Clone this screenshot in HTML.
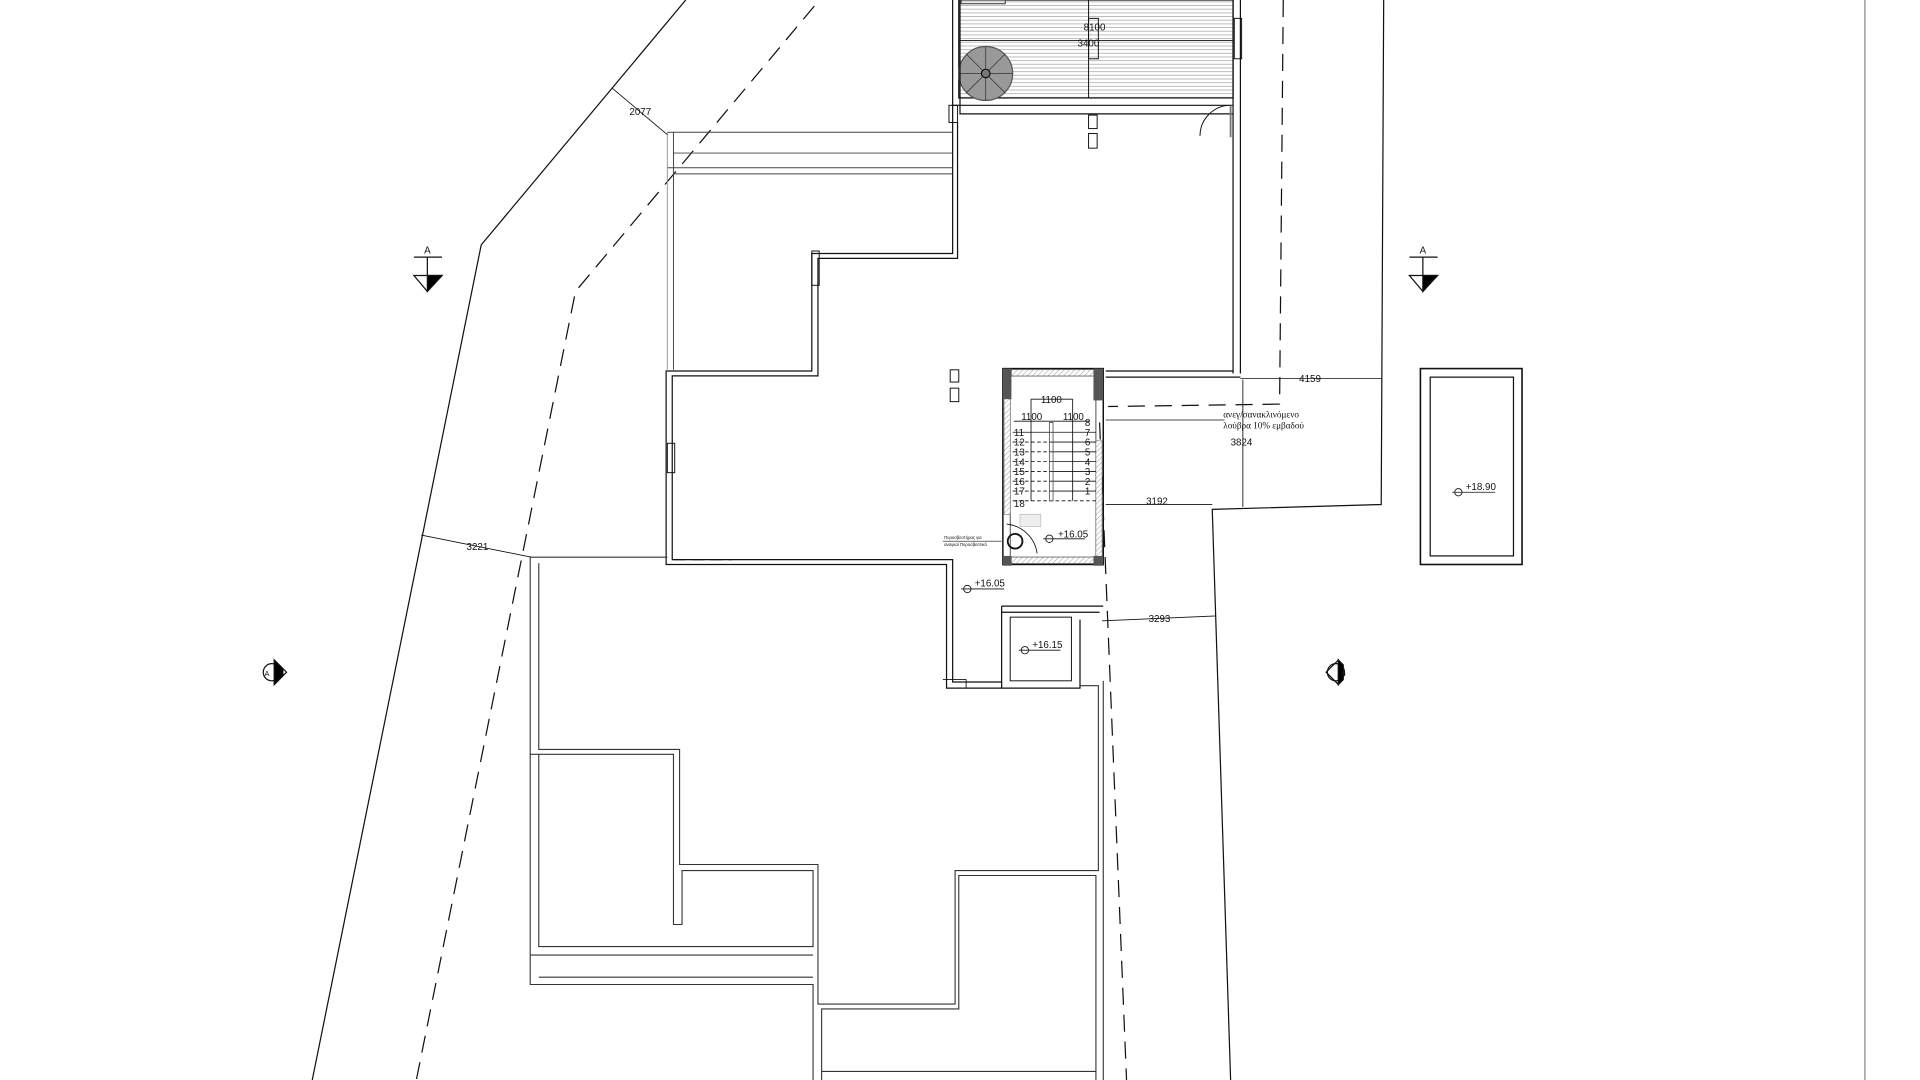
<!DOCTYPE html>
<html><head><meta charset="utf-8"><style>
html,body{margin:0;padding:0;background:#fff;width:1920px;height:1080px;overflow:hidden}
svg{display:block}
text{font-family:"Liberation Sans",sans-serif;font-size:8px;fill:#111}
</style></head><body>
<svg width="1920" height="1080" viewBox="0 0 1568 882" preserveAspectRatio="none" xmlns="http://www.w3.org/2000/svg">
<defs>
<pattern id="hz" width="4" height="3" patternUnits="userSpaceOnUse"><rect width="4" height="3" fill="#fff"/><line x1="0" y1="1.5" x2="4" y2="1.5" stroke="#bbb" stroke-width="0.8"/></pattern>
<pattern id="dg" width="3" height="3" patternUnits="userSpaceOnUse" patternTransform="rotate(45)"><rect width="3" height="3" fill="#fff"/><line x1="0" y1="0" x2="0" y2="3" stroke="#999" stroke-width="0.8"/></pattern>
</defs>
<g fill="none" stroke="#111" stroke-width="1">
<!-- site boundaries -->
<polyline points="560,0 393,200 255,882"/>
<polyline points="665,5 470,238 340,882" stroke-dasharray="14,8"/>
<polyline points="1130,0 1128,412 990,416 1005,882"/>
<polyline points="1048,0 1045,330 905,332" stroke-dasharray="14,8"/>
<polyline points="898,345 920,882" stroke-dasharray="14,8"/>
<line x1="1523" y1="0" x2="1523" y2="882" stroke="#999" stroke-width="1.2"/>

<!-- top deck -->
<rect x="783" y="0" width="224" height="80" fill="url(#hz)" stroke="#111"/>
<rect x="785" y="0" width="36" height="3" stroke="#555"/>
<line x1="889" y1="0" x2="889" y2="80" stroke-width="0.8"/>
<line x1="783" y1="33" x2="1007" y2="33" stroke-width="0.7"/>
<circle cx="805" cy="60" r="22" fill="#999" stroke="#555"/>
<g stroke="#333" stroke-width="0.6">
<line x1="805" y1="60" x2="805" y2="38"/><line x1="805" y1="60" x2="827" y2="60"/><line x1="805" y1="60" x2="805" y2="82"/><line x1="805" y1="60" x2="783" y2="60"/>
<line x1="805" y1="60" x2="821" y2="44"/><line x1="805" y1="60" x2="821" y2="76"/><line x1="805" y1="60" x2="789" y2="76"/><line x1="805" y1="60" x2="789" y2="44"/>
</g>
<circle cx="805" cy="60" r="3.5" fill="#777"/>
<rect x="889" y="15" width="8" height="33" stroke-width="0.8"/>
<rect x="1008" y="15" width="6" height="33" stroke-width="0.8"/>

<!-- main building outline (double wall) -->
<path d="M778,0 V100 V207 H663 V303 H544 V461 H773 V562 H818"/>
<path d="M784,0 V93 H1007 M782,100 V211 H668 V307 H549 V457 H778 V557 H818"/>
<path d="M778,86 H1007 M1007,0 V305 M1013,0 V305 M903,303 H1007 M903,308 H1013"/>
<path d="M1005,86 A25,25 0 0 0 980,111" stroke-width="0.8"/>
<line x1="1005" y1="86" x2="1005" y2="112" stroke="#777" stroke-width="1.5"/>
<rect x="889" y="94" width="7" height="11" stroke-width="0.8"/><rect x="889" y="109" width="7" height="12" stroke-width="0.8"/>
<rect x="776" y="302" width="7" height="10" stroke-width="0.8"/><rect x="776" y="317" width="7" height="11" stroke-width="0.8"/>
<rect x="545" y="362" width="6" height="24" stroke-width="0.8"/>
<rect x="663" y="205" width="6" height="28" stroke-width="0.8"/>
<rect x="775" y="86" width="7" height="14" stroke-width="0.8"/>
<line x1="550" y1="457" x2="598" y2="457" stroke-dasharray="10,5"/>
<!-- upper-left roof lines -->
<g stroke="#444" stroke-width="0.8">
<line x1="545" y1="108" x2="778" y2="108"/><line x1="550" y1="125" x2="778" y2="125"/><line x1="545" y1="137" x2="778" y2="137"/><line x1="550" y1="142" x2="778" y2="142"/>
<line x1="545" y1="108" x2="545" y2="302" stroke="#999"/><line x1="550" y1="108" x2="550" y2="302"/>
</g>

<!-- staircase -->
<rect x="819" y="301" width="82" height="160" stroke-width="1.2"/>
<rect x="825" y="307" width="70" height="148" stroke-width="0.6"/>
<rect x="826" y="302" width="68" height="5" fill="url(#dg)" stroke="#555" stroke-width="0.4"/>
<rect x="826" y="455" width="68" height="5" fill="url(#dg)" stroke="#555" stroke-width="0.4"/>
<rect x="820" y="315" width="5" height="105" fill="url(#dg)" stroke="#555" stroke-width="0.4"/>
<rect x="895" y="360" width="5" height="95" fill="url(#dg)" stroke="#555" stroke-width="0.4"/>
<rect x="819" y="301" width="7" height="25" fill="#555" stroke="none"/>
<rect x="893" y="301" width="8" height="26" fill="#555" stroke="none"/>
<rect x="819" y="454" width="7" height="8" fill="#555" stroke="none"/>
<rect x="893" y="454" width="8" height="8" fill="#555" stroke="none"/>
<g stroke-width="0.7">
<line x1="827" y1="353" x2="895" y2="353"/>
<line x1="827" y1="361" x2="860" y2="361" stroke-dasharray="3,2"/><line x1="860" y1="361" x2="895" y2="361"/>
<line x1="827" y1="369" x2="860" y2="369" stroke-dasharray="3,2"/><line x1="860" y1="369" x2="895" y2="369"/>
<line x1="827" y1="377" x2="860" y2="377" stroke-dasharray="3,2"/><line x1="860" y1="377" x2="895" y2="377"/>
<line x1="827" y1="385" x2="860" y2="385" stroke-dasharray="3,2"/><line x1="860" y1="385" x2="895" y2="385"/>
<line x1="827" y1="393" x2="860" y2="393" stroke-dasharray="3,2"/><line x1="860" y1="393" x2="895" y2="393"/>
<line x1="827" y1="401" x2="860" y2="401" stroke-dasharray="3,2"/><line x1="860" y1="401" x2="895" y2="401"/>
<line x1="827" y1="409" x2="895" y2="409" stroke-dasharray="3,2"/>
<rect x="857" y="345" width="3" height="64" stroke="#555"/>
<line x1="842" y1="326" x2="842" y2="409"/><line x1="876" y1="326" x2="876" y2="409"/><line x1="842" y1="326" x2="876" y2="326"/>
<line x1="828" y1="344" x2="890" y2="344"/>
</g>
<rect x="833" y="420" width="17" height="10" fill="#eee" stroke="#bbb" stroke-width="0.6"/>
<path d="M822,428 A28,28 0 0 1 847,452" stroke-width="0.7"/>
<circle cx="829" cy="442" r="6" stroke-width="1.5"/>
<line x1="770" y1="442" x2="818" y2="442" stroke-width="0.5"/>

<!-- small box below stair -->
<path d="M818,495 H901 M818,500 H898 M818,495 V562 H882 V506"/>
<rect x="825" y="504" width="50" height="52" stroke-width="0.8"/>
<path d="M770,555 H789 V562" stroke-width="0.7"/>

<!-- bottom roof outlines -->
<g stroke="#333" stroke-width="0.9">
<path d="M545,455 H433 V804 H664 V882"/>
<path d="M440,460 V612 H555 V706 H668 V820 H780 V711 H897 V560 H882"/>
<path d="M433,616 H550 V755 H557 V711 H664 V773 H440 V616"/>
<path d="M433,780 H664 M440,798 H664"/>
<path d="M671,882 V824 H783 V715 H895 V882"/>
<path d="M901,556 V882"/>
<path d="M671,875 H895"/>
</g>

<!-- right box -->
<rect x="1160" y="301" width="83" height="160" stroke-width="1.3"/>
<rect x="1168" y="308" width="68" height="146"/>

<!-- dimension lines -->
<g stroke-width="0.7">
<line x1="500" y1="72" x2="545" y2="110"/>
<line x1="344" y1="437" x2="434" y2="455"/>
<line x1="903" y1="412" x2="990" y2="412"/>
<line x1="900" y1="507" x2="993" y2="503"/>
<line x1="1013" y1="309" x2="1128" y2="309"/>
<line x1="1015" y1="310" x2="1015" y2="414"/>
<line x1="903" y1="343" x2="1000" y2="343"/>
</g>

<!-- elevation marks -->
<g stroke-width="0.7">
<line x1="852" y1="440" x2="886" y2="440"/><circle cx="857" cy="440" r="3"/>
<line x1="785" y1="481" x2="820" y2="481"/><circle cx="790" cy="481" r="3"/>
<line x1="832" y1="531" x2="866" y2="531"/><circle cx="837" cy="531" r="3"/>
<line x1="1186" y1="402" x2="1221" y2="402"/><circle cx="1191" cy="402" r="3"/>
</g>

<!-- section markers -->
<g stroke-width="1">
<line x1="338" y1="210" x2="361" y2="210"/><line x1="349" y1="210" x2="349" y2="225"/>
<polygon points="338,225 361,225 349,238"/><polygon points="349,225 361,225 349,238" fill="#000"/>
<line x1="1151" y1="210" x2="1174" y2="210"/><line x1="1162" y1="210" x2="1162" y2="225"/>
<polygon points="1151,225 1174,225 1162,238"/><polygon points="1162,225 1174,225 1162,238" fill="#000"/>
<circle cx="222" cy="549" r="7"/><polygon points="224,539 234,549 224,559"/><polygon points="224,539 231,546 231,552 224,559" fill="#000"/>
<circle cx="1091" cy="549" r="7"/><polygon points="1093,539 1083,549 1093,559"/><polygon points="1093,539 1093,559 1097,555 1097,543" fill="#000"/>
</g>
</g>

<!-- texts -->
<text x="885" y="25">8100</text>
<text x="880" y="38">3400</text>
<text x="514" y="94">2077</text>
<text x="381" y="449">3221</text>
<text x="936" y="412">3192</text>
<text x="938" y="508">3293</text>
<text x="1061" y="312">4159</text>
<text x="1005" y="364">3824</text>
<text x="999" y="341" style="font-family:'Liberation Serif',serif;font-size:7.5px">ανεγ/σανακλινόμενο</text>
<text x="999" y="350" style="font-family:'Liberation Serif',serif;font-size:7.5px">λούβρα 10% εμβαδού</text>
<text x="349" y="207" text-anchor="middle">A</text>
<text x="1162" y="207" text-anchor="middle">A</text>
<text x="216" y="552" style="font-size:6px">A</text>
<text x="1095" y="552" style="font-size:6px">B</text>
<text x="850" y="329">1100</text>
<text x="834" y="343">1100</text>
<text x="868" y="343">1100</text>
<text x="864" y="439">+16.05</text>
<text x="796" y="479">+16.05</text>
<text x="843" y="529">+16.15</text>
<text x="1197" y="400">+18.90</text>
<text x="771" y="440" style="font-size:3.5px">Πυροσβεστήρας για</text>
<text x="771" y="446" style="font-size:3.5px">αναγκαί Πυροσβεστικό</text>
<g style="font-size:5px">
<text x="828" y="356">11</text><text x="828" y="364">12</text><text x="828" y="372">13</text><text x="828" y="380">14</text><text x="828" y="388">15</text><text x="828" y="396">16</text><text x="828" y="404">17</text><text x="828" y="414">18</text>
<text x="886" y="356">7</text><text x="886" y="364">6</text><text x="886" y="372">5</text><text x="886" y="380">4</text><text x="886" y="388">3</text><text x="886" y="396">2</text><text x="886" y="404">1</text><text x="886" y="348">8</text>
</g>
</svg>
</body></html>
